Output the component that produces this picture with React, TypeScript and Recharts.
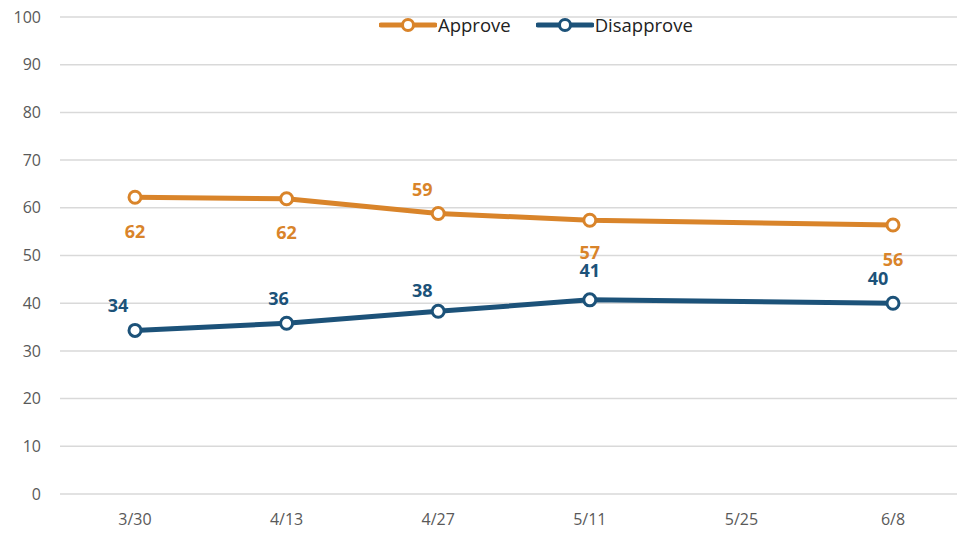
import { CartesianGrid, Line, LineChart, XAxis, YAxis } from 'recharts'

const dates = ['3/30', '4/13', '4/27', '5/11', '5/25', '6/8']
const approve = [62.2, 61.9, 58.8, 57.4, null, 56.4]
const disapprove = [34.3, 35.8, 38.3, 40.7, null, 40.0]
const yTicks = [0, 10, 20, 30, 40, 50, 60, 70, 80, 90, 100]

const ORANGE = '#D9842A'
const BLUE = '#1C5279'
const FONT = '"Open Sans", sans-serif'

// label nudges per point, [dx, dy] from the dot
const approveNudge = [[0, 34], [0, 33], [-16, -25], [0, 32], [0, 0], [0, 34]]
const disapproveNudge = [[-17, -25], [-8, -25], [-16, -21], [0, -30], [0, 0], [-15, -25]]

const data = dates.map((date, i) => ({
  date,
  approve: approve[i],
  disapprove: disapprove[i],
}))

function makeLabel(color: string, nudge: number[][]) {
  return (props: any) => {
    const { x, y, value, index } = props
    if (value == null) return null
    const [dx, dy] = nudge[index] ?? [0, -20]
    return (
      <text
        x={x + dx}
        y={y + dy}
        fill={color}
        fontSize={18}
        fontWeight={700}
        fontFamily={FONT}
        textAnchor="middle"
        dominantBaseline="central"
      >
        {Math.round(value)}
      </text>
    )
  }
}

function LegendItem({ color, label }: { color: string; label: string }) {
  return (
    <div style={{ display: 'flex', alignItems: 'center', marginRight: 25 }}>
      <svg width={58} height={14}>
        <line x1={2} y1={7} x2={56} y2={7} stroke={color} strokeWidth={5} strokeLinecap="round" />
        <circle cx={29} cy={7} r={5.5} fill="#fff" stroke={color} strokeWidth={3} />
      </svg>
      <span style={{ fontSize: 18.5, color: '#222', marginLeft: 1 }}>{label}</span>
    </div>
  )
}

export default function App() {
  return (
    <div
      style={{
        position: 'absolute',
        left: 0,
        top: 0,
        width: 957,
        height: 533,
        overflow: 'hidden',
        background: '#fff',
        fontFamily: FONT,
      }}
    >
      <LineChart
        width={975}
        height={533}
        data={data}
        margin={{ top: 17, right: 6, bottom: 0, left: 0 }}
      >
        <CartesianGrid vertical={false} stroke="#d9d9d9" strokeWidth={1.5} />
        <XAxis
          dataKey="date"
          axisLine={false}
          tickLine={false}
          padding={{ left: 75, right: 76 }}
          height={39}
          tickMargin={14}
          tick={{ fill: '#595959', fontSize: 16, fontFamily: FONT }}
        />
        <YAxis
          domain={[0, 100]}
          ticks={yTicks}
          axisLine={false}
          tickLine={false}
          width={60}
          tickMargin={13}
          tick={{ fill: '#595959', fontSize: 16, fontFamily: FONT }}
        />
        <Line
          dataKey="approve"
          stroke={ORANGE}
          strokeWidth={5}
          connectNulls
          isAnimationActive={false}
          dot={{ r: 6, fill: '#fff', stroke: ORANGE, strokeWidth: 3 }}
          label={makeLabel(ORANGE, approveNudge)}
        />
        <Line
          dataKey="disapprove"
          stroke={BLUE}
          strokeWidth={5}
          connectNulls
          isAnimationActive={false}
          dot={{ r: 6, fill: '#fff', stroke: BLUE, strokeWidth: 3 }}
          label={makeLabel(BLUE, disapproveNudge)}
        />
      </LineChart>
      <div style={{ position: 'absolute', left: 379, top: 12, display: 'flex' }}>
        <LegendItem color={ORANGE} label="Approve" />
        <LegendItem color={BLUE} label="Disapprove" />
      </div>
    </div>
  )
}
